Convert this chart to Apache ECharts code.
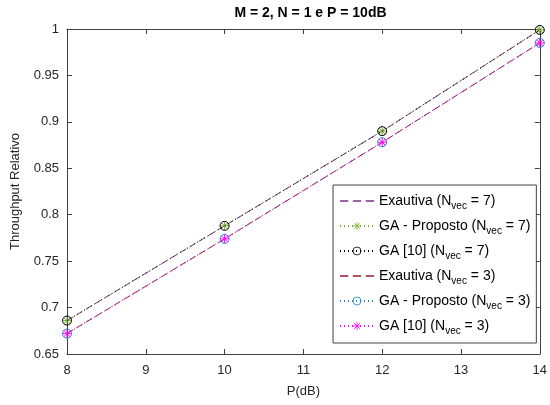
<!DOCTYPE html>
<html>
<head>
<meta charset="utf-8">
<script src="https://cdn.jsdelivr.net/npm/echarts@6/dist/echarts.min.js"></script>
<style>
html,body{margin:0;padding:0;background:#fff;}
#c{width:550px;height:405px;}
</style>
</head>
<body>
<div id="c"></div>
<script>
// ---- data ----
const pdB = [8, 10, 12, 14];
const exautiva7 = [0.686, 0.788, 0.890, 0.999];
const gaProposto7 = [0.686, 0.788, 0.890, 0.999];
const ga10_7 = [0.686, 0.788, 0.890, 0.999];
const exautiva3 = [0.672, 0.774, 0.878, 0.985];
const gaProposto3 = [0.672, 0.774, 0.878, 0.985];
const ga10_3 = [0.672, 0.774, 0.878, 0.985];
const xTicks = [8, 9, 10, 11, 12, 13, 14];
const yTicks = [0.65, 0.7, 0.75, 0.8, 0.85, 0.9, 0.95, 1];
const seriesNames = ['Exautiva', 'GA - Proposto', 'GA [10]', 'Exautiva', 'GA - Proposto', 'GA [10]'];
const nvec = [7, 7, 7, 3, 3, 3];
const titleText = 'M = 2, N = 1 e P = 10dB';
const xName = 'P(dB)';
const yName = 'Throughput Relativo';

const FONT = '"Liberation Sans", Arial, sans-serif';
const AX = '#404040';
const TXT = '#262626';
const star = 'path://M0,-10L0,10M-10,0L10,0M-7.07,-7.07L7.07,7.07M-7.07,7.07L7.07,-7.07';
const dashIcon = 'path://M0,0h8v1.4h-8zM12.5,0h8v1.4h-8zM25,0h8v1.4h-8z';

function pts(v){ return pdB.map((x,i)=>[x, v[i]]); }
function key(i){ return 'k' + i; }

const styles = [
  {data: exautiva7, color: '#7E2F8E', type: [7,4], symbol: 'none'},
  {data: gaProposto7, color: '#77AC30', type: [1,3], symbol: star},
  {data: ga10_7, color: '#000000', type: [1,3], symbol: 'circle'},
  {data: exautiva3, color: '#A2142F', type: [7,4], symbol: 'none'},
  {data: gaProposto3, color: '#1A86D8', type: [1,3], symbol: 'circle'},
  {data: ga10_3, color: '#FF00FF', type: [1,3], symbol: star}
];

const series = styles.map((s, i) => ({
  type: 'line',
  name: key(i),
  data: pts(s.data),
  clip: false,
  symbol: s.symbol,
  symbolSize: 9,
  showSymbol: s.symbol !== 'none',
  lineStyle: {color: s.color, width: 1, type: s.type},
  itemStyle: s.symbol === 'none'
    ? {color: s.color, borderWidth: 0}
    : {color: 'rgba(0,0,0,0)', borderColor: s.color, borderWidth: 1},
  emphasis: {disabled: true},
  animation: false,
  z: 2 + i
}));

const nameMap = {};
seriesNames.forEach((n, i) => { nameMap[key(i)] = i; });

const legendData = styles.map((s, i) => s.symbol === 'none'
  ? {name: key(i), icon: dashIcon, itemStyle: {color: s.color, borderWidth: 0}}
  : {name: key(i), itemStyle: {color: 'rgba(0,0,0,0)', borderColor: s.color, borderWidth: 0.8}});

const chart = echarts.init(document.getElementById('c'), null, {renderer: 'canvas'});
chart.setOption({
  animation: false,
  backgroundColor: '#fff',
  textStyle: {fontFamily: FONT},
  title: {
    text: titleText,
    left: 305.5,
    top: 1,
    textAlign: 'center',
    textStyle: {fontFamily: FONT, fontSize: 14, fontWeight: 'bold', color: '#000'}
  },
  grid: {left: 67, right: 6, top: 29, bottom: 51, containLabel: false},
  xAxis: [{
    type: 'value', min: 8, max: 14, interval: 1,
    name: xName, nameLocation: 'middle', nameGap: 31,
    nameTextStyle: {fontFamily: FONT, fontSize: 13, color: TXT},
    axisLine: {show: true, onZero: false, lineStyle: {color: AX, width: 1}},
    axisTick: {show: true, inside: true, length: 5, lineStyle: {color: AX}},
    axisLabel: {fontFamily: FONT, fontSize: 13, color: TXT, margin: 10},
    splitLine: {show: false}
  }, {
    type: 'value', min: 8, max: 14, interval: 1, position: 'top',
    axisLine: {show: true, onZero: false, lineStyle: {color: AX, width: 1}},
    axisTick: {show: true, inside: true, length: 5, lineStyle: {color: AX}},
    axisLabel: {show: false}, splitLine: {show: false}
  }],
  yAxis: [{
    type: 'value', min: 0.65, max: 1, interval: 0.05,
    name: yName, nameLocation: 'middle', nameGap: 45,
    nameTextStyle: {fontFamily: FONT, fontSize: 13, color: TXT},
    axisLine: {show: true, onZero: false, lineStyle: {color: AX, width: 1}},
    axisTick: {show: true, inside: true, length: 5, lineStyle: {color: AX}},
    axisLabel: {fontFamily: FONT, fontSize: 13, color: TXT, margin: 8,
      formatter: v => String(Math.round(v * 100) / 100)},
    splitLine: {show: false}
  }, {
    type: 'value', min: 0.65, max: 1, interval: 0.05, position: 'right',
    axisLine: {show: true, onZero: false, lineStyle: {color: AX, width: 1}},
    axisTick: {show: true, inside: true, length: 5, lineStyle: {color: AX}},
    axisLabel: {show: false}, splitLine: {show: false}
  }],
  legend: {
    orient: 'vertical',
    left: 333, top: 185,
    padding: [9, 6, 7, 6],
    itemGap: 8,
    itemWidth: 34,
    itemHeight: 10,
    backgroundColor: '#fff',
    borderColor: AX,
    borderWidth: 1,
    borderRadius: 0,
    selectedMode: false,
    data: legendData,
    formatter: n => {
      const i = nameMap[n];
      return '{a|' + seriesNames[i] + ' (N}{s|vec}{a| = ' + nvec[i] + ')}';
    },
    textStyle: {
      fontFamily: FONT, fontSize: 14, color: '#000',
      rich: {
        a: {fontFamily: FONT, fontSize: 14, color: '#000', lineHeight: 20, verticalAlign: 'middle'},
        s: {fontFamily: FONT, fontSize: 10, color: '#000', lineHeight: 10, verticalAlign: 'bottom'}
      }
    }
  },
  series: series
});
</script>
</body>
</html>
